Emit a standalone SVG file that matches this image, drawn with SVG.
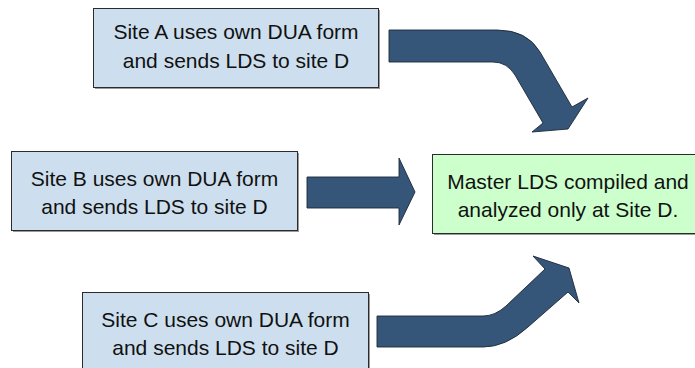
<svg xmlns="http://www.w3.org/2000/svg" width="695" height="368" viewBox="0 0 695 368">
  <style>
    .site rect.body { fill: #cddfee; stroke: #2b2b2b; stroke-width: 1; }
    .master rect.body { fill: #ccffcc; stroke: #2b2b2b; stroke-width: 1; }
    rect.shadow { fill: #9a9a9a; }
    text { font-family: "Liberation Sans", Arial, sans-serif; font-size: 21px; fill: #111; text-anchor: middle; }
    .arrow { fill: #355678; stroke: #1c2838; stroke-width: 0.9; stroke-linejoin: miter; }
  </style>

  <!-- Site boxes -->
  <g id="site-a" class="site">
    <rect class="shadow" x="95" y="10" width="285" height="79"/>
    <rect class="body" x="93.5" y="8.5" width="285" height="79"/>
    <text x="236" y="39">Site A uses own DUA form</text>
    <text x="236" y="68">and sends LDS to site D</text>
  </g>

  <g id="site-b" class="site">
    <rect class="shadow" x="13" y="153" width="286" height="79"/>
    <rect class="body" x="11.5" y="151.5" width="286" height="79"/>
    <text x="154.5" y="186">Site B uses own DUA form</text>
    <text x="154.5" y="214">and sends LDS to site D</text>
  </g>

  <g id="site-c" class="site">
    <rect class="shadow" x="84" y="294" width="286" height="80"/>
    <rect class="body" x="82.5" y="292.5" width="286" height="80"/>
    <text x="225.5" y="327">Site C uses own DUA form</text>
    <text x="225.5" y="355">and sends LDS to site D</text>
  </g>

  <!-- Collection point -->
  <g id="site-d" class="master">
    <rect class="shadow" x="434" y="156" width="270" height="79"/>
    <rect class="body" x="432.5" y="154.5" width="270" height="79"/>
    <text x="568" y="189">Master LDS compiled and</text>
    <text x="568" y="217">analyzed only at Site D.</text>
  </g>

  <!-- Connectors: block arrows into site D -->
  <g id="connectors">
    <path class="arrow" d="M389,30 L497,30 Q527,30 540,52 L572,107 L588,98 L568,129 L532,132 L543,123 L515,75 Q507,62 493,62 L389,62 Z"/>
    <path class="arrow" d="M307,177 L399,177 L399,158 L415,192 L399,225 L399,208 L307,208 Z"/>
    <path class="arrow" d="M377,316 L483,316 Q495,316 506,306 L545,269 L533,256 L569,268 L579,303 L568,292 L528,327 Q506,347 483,347 L377,347 Z"/>
  </g>
</svg>
